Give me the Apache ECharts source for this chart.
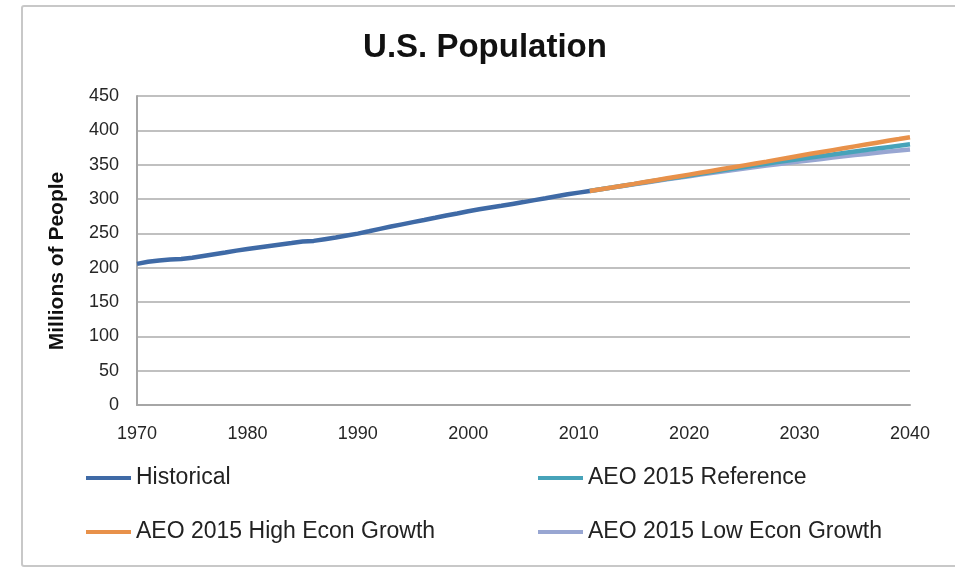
<!DOCTYPE html>
<html>
<head>
<meta charset="utf-8">
<script src="https://cdn.jsdelivr.net/npm/echarts@6/dist/echarts.min.js"></script>
<style>
html,body{margin:0;padding:0;background:#fff;}
#c{width:955px;height:569px;}
</style>
</head>
<body>
<div id="c"></div>
<script>
const histYears = [1970,1971,1972,1973,1974,1975,1976,1977,1978,1979,1980,1981,1982,1983,1984,1985,1986,1987,1988,1989,1990,1991,1992,1993,1994,1995,1996,1997,1998,1999,2000,2001,2002,2003,2004,2005,2006,2007,2008,2009,2010,2011];
const histValues = [205.5,208.5,210.5,211.9,212.5,214.5,217.0,219.5,222.0,224.8,227.2,229.5,231.7,233.8,235.8,238.0,239.0,241.5,244.0,246.8,249.6,253.0,256.5,259.9,263.1,266.3,269.4,272.6,275.9,279.0,282.2,285.0,287.6,290.1,292.8,295.5,298.4,301.2,304.1,306.8,309.3,311.6];
const projYears = [2011,2012,2013,2014,2015,2016,2017,2018,2019,2020,2021,2022,2023,2024,2025,2026,2027,2028,2029,2030,2031,2032,2033,2034,2035,2036,2037,2038,2039,2040];
const refValues = [311.6,314.3,316.7,319.2,321.7,324.3,326.8,329.3,331.8,334.3,336.8,339.3,341.7,344.2,346.6,349.0,351.4,353.7,356.0,358.3,360.5,362.7,364.9,367.0,369.2,371.3,373.4,375.5,377.6,379.6];
const highValues = [311.6,314.3,316.8,319.4,322.0,324.7,327.4,330.1,332.8,335.5,338.2,340.9,343.6,346.3,349.0,351.7,354.4,357.3,360.2,363.0,365.8,368.5,371.2,373.9,376.6,379.3,382.0,384.7,387.3,390.0];
const lowValues = [311.6,314.2,316.6,319.0,321.4,323.8,326.2,328.6,330.9,333.2,335.5,337.8,340.0,342.2,344.4,346.5,348.6,350.6,352.6,354.6,356.5,358.4,360.3,362.1,363.9,365.6,367.3,369.0,370.6,372.2];
const seriesNames = ['Historical','AEO 2015 Reference','AEO 2015 High Econ Growth','AEO 2015 Low Econ Growth'];
const colors = ['#3f6aa6','#47a3b9','#e8914a','#98a6d2'];
const titleText = 'U.S. Population';
const yAxisTitle = 'Millions of People';

function pairs(xs, ys){ return xs.map((x,i)=>[x, ys[i]]); }

const chart = echarts.init(document.getElementById('c'), null, {renderer:'canvas'});
const fontFam = '"Liberation Sans", Arial, sans-serif';
const lineSeries = (name, data, color, z) => ({
  name, type:'line', data, showSymbol:false, symbol:'none', smooth:false, z,
  lineStyle:{color, width:4.5}, itemStyle:{color}, animation:false
});
const legendBase = {
  orient:'vertical', top:465, padding:0,
  icon:'rect', itemWidth:45, itemHeight:4, itemGap:28,
  textStyle:{fontFamily:fontFam, fontSize:23, color:'#222', lineHeight:26}
};
chart.setOption({
  animation:false,
  backgroundColor:'#fff',
  graphic:[
    {
      type:'rect', shape:{x:22, y:6, width:960, height:560, r:2},
      style:{fill:'none', stroke:'#c8c8c8', lineWidth:2}, silent:true, z:-10
    },
    {
      type:'text', x:485, y:48,
      style:{text:titleText, fontFamily:fontFam, fontSize:33, fontWeight:'bold', fill:'#111',
             textAlign:'center', textVerticalAlign:'middle'}
    },
    {
      type:'text', x:57, y:261, rotation:Math.PI/2,
      style:{text:yAxisTitle, fontFamily:fontFam, fontSize:21, fontWeight:'bold', fill:'#111',
             textAlign:'center', textVerticalAlign:'middle'}
    }
  ],
  grid:{left:137, right:45, top:96, bottom:164},
  xAxis:{
    type:'value', min:1970, max:2040, interval:10,
    axisLine:{show:true, lineStyle:{color:'#a6a6a6', width:2}},
    axisTick:{show:false},
    splitLine:{show:false},
    axisLabel:{color:'#262626', fontFamily:fontFam, fontSize:18, margin:20, formatter:v=>String(v)}
  },
  yAxis:{
    type:'value', min:0, max:450, interval:50,
    axisLine:{show:true, lineStyle:{color:'#a6a6a6', width:2}},
    axisTick:{show:false},
    splitLine:{show:true, lineStyle:{color:'#c0c0c0', width:2}},
    axisLabel:{color:'#262626', fontFamily:fontFam, fontSize:18, margin:18}
  },
  legend:[
    Object.assign({}, legendBase, {data:[seriesNames[0], seriesNames[2]], left:86}),
    Object.assign({}, legendBase, {data:[seriesNames[1], seriesNames[3]], left:538})
  ],
  series:[
    lineSeries(seriesNames[3], pairs(projYears, lowValues), colors[3], 2),
    lineSeries(seriesNames[1], pairs(projYears, refValues), colors[1], 3),
    lineSeries(seriesNames[2], pairs(projYears, highValues), colors[2], 4),
    lineSeries(seriesNames[0], pairs(histYears, histValues), colors[0], 5)
  ]
});
</script>
</body>
</html>
